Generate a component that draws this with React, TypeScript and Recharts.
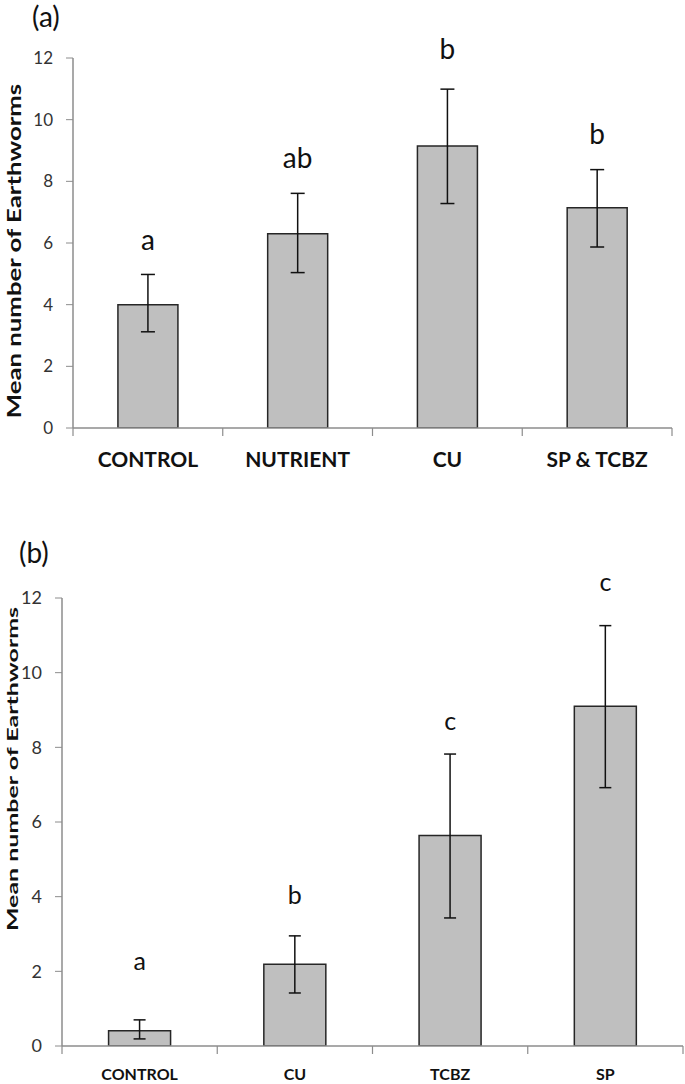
import { Bar, ComposedChart, ErrorBar, LabelList, Line, XAxis, YAxis } from "recharts";

// panel (a)
const groupsA = ["CONTROL", "NUTRIENT", "CU", "SP & TCBZ"];
const meanA = [4.0, 6.3, 9.15, 7.14];
const lowA = [3.12, 5.04, 7.28, 5.87];
const highA = [4.98, 7.61, 10.99, 8.38];
const lettersA = ["a", "ab", "b", "b"];
const letterAtA = [6.1, 8.76, 12.29, 9.54];

// panel (b)
const groupsB = ["CONTROL", "CU", "TCBZ", "SP"];
const meanB = [0.41, 2.19, 5.64, 9.1];
const lowB = [0.19, 1.42, 3.43, 6.92];
const highB = [0.7, 2.95, 7.82, 11.26];
const lettersB = ["a", "b", "c", "c"];
const letterAtB = [2.28, 4.03, 8.7, 12.42];

const yTicks = [0, 2, 4, 6, 8, 10, 12];

const FONT = "Lato, 'Open Sans', sans-serif";
const AXIS = "#8c8c8c";

function buildRows(groups: string[], mean: number[], low: number[], high: number[], letters: string[], at: number[]) {
  return groups.map((g, i) => ({
    group: g,
    mean: mean[i],
    err: [mean[i] - low[i], high[i] - mean[i]],
    letter: letters[i],
    letterAt: at[i],
  }));
}

// category tick: label plus Excel-style tick marks on the band edges
function CatTick(props: any) {
  const { x, y, payload, index, visibleTicksCount, width, fontSize, labelDy } = props;
  const half = payload.offset || width / (2 * visibleTicksCount);
  return (
    <g>
      <line x1={x - half} x2={x - half} y1={y} y2={y + 8} stroke={AXIS} strokeWidth={1.2} />
      {index === visibleTicksCount - 1 && (
        <line x1={x + half} x2={x + half} y1={y} y2={y + 8} stroke={AXIS} strokeWidth={1.2} />
      )}
      <text
        x={x}
        y={y + labelDy}
        textAnchor="middle"
        dominantBaseline="central"
        fontSize={fontSize}
        fontWeight={700}
        fontFamily={FONT}
        fill="#111"
      >
        {payload.value}
      </text>
    </g>
  );
}

type PanelProps = {
  rows: ReturnType<typeof buildRows>;
  height: number;
  top: number;
  right: number;
  yWidth: number;
  catHeight: number;
  catFont: number;
  catDy: number;
  tickFont: number;
  letterFont: number;
  capWidth: number;
};

function Panel(p: PanelProps) {
  return (
    <ComposedChart
      width={685}
      height={p.height}
      data={p.rows}
      margin={{ top: p.top, right: p.right, left: 0, bottom: 0 }}
      barCategoryGap="30%"
    >
      <XAxis
        dataKey="group"
        height={p.catHeight}
        axisLine={{ stroke: AXIS, strokeWidth: 1.5 }}
        tickLine={false}
        tickSize={0}
        tickMargin={0}
        interval={0}
        tick={<CatTick fontSize={p.catFont} labelDy={p.catDy} />}
      />
      <YAxis
        width={p.yWidth}
        domain={[0, 12]}
        ticks={yTicks}
        allowDataOverflow
        tickSize={7}
        tickMargin={13}
        stroke={AXIS}
        axisLine={{ stroke: AXIS, strokeWidth: 1.5 }}
        tickLine={{ stroke: AXIS }}
        tick={{ fontSize: p.tickFont, fill: "#333", fontFamily: FONT }}
      />
      <Bar dataKey="mean" fill="#bfbfbf" stroke="#262626" strokeWidth={1.5} isAnimationActive={false}>
        <ErrorBar dataKey="err" width={p.capWidth} stroke="#111" strokeWidth={1.5} direction="y" />
      </Bar>
      <Line dataKey="letterAt" stroke="none" dot={false} activeDot={false} isAnimationActive={false}>
        <LabelList dataKey="letter" position="center" fontSize={p.letterFont} fill="#111" fontFamily={FONT} />
      </Line>
    </ComposedChart>
  );
}

function Tag({ text, left, top }: { text: string; left: number; top: number }) {
  return (
    <div style={{ position: "absolute", left, top, fontFamily: FONT, fontSize: 28, color: "#111", lineHeight: "32px" }}>
      {text}
    </div>
  );
}

function YTitle({ cx, cy, size, stretch }: { cx: number; cy: number; size: number; stretch: number }) {
  return (
    <div
      style={{
        position: "absolute",
        left: cx - 200,
        top: cy - 12,
        width: 400,
        height: 24,
        lineHeight: "24px",
        textAlign: "center",
        transform: `rotate(-90deg) scaleX(${stretch})`,
        fontFamily: FONT,
        fontWeight: 700,
        fontSize: size,
        color: "#111",
        whiteSpace: "nowrap",
      }}
    >
      Mean number of Earthworms
    </div>
  );
}

export default function App() {
  const rowsA = buildRows(groupsA, meanA, lowA, highA, lettersA, letterAtA);
  const rowsB = buildRows(groupsB, meanB, lowB, highB, lettersB, letterAtB);
  return (
    <div style={{ position: "absolute", left: 0, top: 0, width: 685, height: 1084, background: "#fff", overflow: "hidden" }}>
      <div style={{ position: "absolute", left: 0, top: 0 }}>
        <Panel rows={rowsA} height={480} top={58} right={13} yWidth={73} catHeight={52} catFont={21} catDy={30} tickFont={17} letterFont={28} capWidth={7} />
      </div>
      <div style={{ position: "absolute", left: 0, top: 520 }}>
        <Panel rows={rowsB} height={564} top={78} right={2} yWidth={62} catHeight={38} catFont={16} catDy={27} tickFont={18} letterFont={25} capWidth={6} />
      </div>
      <Tag text="(a)" left={32} top={0} />
      <Tag text="(b)" left={19} top={536} />
      <YTitle cx={14} cy={251} size={18} stretch={1.43} />
      <YTitle cx={12} cy={769} size={16} stretch={1.56} />
    </div>
  );
}
